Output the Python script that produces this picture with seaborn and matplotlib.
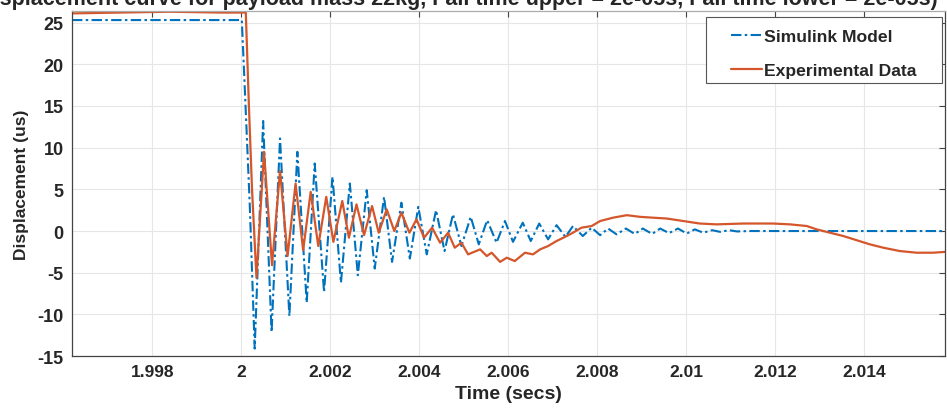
import pandas as pd
import matplotlib.pyplot as plt
from matplotlib.patches import Rectangle
import seaborn as sns

# Simulink model response (time in s, displacement in us)
sim_time = [1.99619, 2.00001, 2.00007, 2.00019, 2.00030, 2.00049, 2.00068, 2.00087,
            2.00108, 2.00126, 2.00147, 2.00165, 2.00186, 2.00205, 2.00224, 2.00244,
            2.00262, 2.00282, 2.00300, 2.00321, 2.00339, 2.00360, 2.00379, 2.00398,
            2.00417, 2.00438, 2.00457, 2.00476, 2.00495, 2.00516, 2.00534, 2.00553,
            2.00574, 2.00593, 2.00611, 2.00633, 2.00651, 2.00670, 2.00690, 2.00709,
            2.00729, 2.00746, 2.00768, 2.00788, 2.00807, 2.00825, 2.00844, 2.00865,
            2.00885, 2.00903, 2.00924, 2.00942, 2.00962, 2.00982, 2.01002, 2.01020,
            2.01039, 2.01059, 2.01077, 2.01097, 2.01115, 2.01144, 2.01583]
sim_disp = [25.3, 25.3, 18.0, 3.0, -14.1, 13.2, -12.1, 11.1,
            -10.2, 9.5, -8.6, 8.1, -7.3, 6.5, -6.2, 5.7,
            -5.3, 4.9, -4.5, 4.1, -3.7, 3.4, -3.3, 2.9,
            -2.8, 2.5, -2.4, 2.0, -1.8, 1.7, -1.6, 1.3,
            -1.4, 1.2, -1.3, 1.0, -1.2, 0.9, -1.0, 0.7,
            -0.7, 0.6, -0.6, 0.4, -0.5, 0.3, -0.4, 0.3,
            -0.35, 0.3, -0.35, 0.3, -0.25, 0.3, -0.3, 0.2,
            -0.2, 0.1, -0.1, 0.1, -0.05, 0.0, 0.0]

# Measured response
exp_time = [1.99619, 1.99727, 1.99839, 1.99952, 2.00010, 2.00017, 2.00024, 2.00034,
            2.00051, 2.00069, 2.00087, 2.00104, 2.00122, 2.00139, 2.00156, 2.00173,
            2.00191, 2.00207, 2.00227, 2.00242, 2.00259, 2.00276, 2.00294, 2.00309,
            2.00327, 2.00344, 2.00360, 2.00378, 2.00394, 2.00411, 2.00429, 2.00447,
            2.00465, 2.00480, 2.00495, 2.00510, 2.00537, 2.00552, 2.00563, 2.00582,
            2.00597, 2.00615, 2.00638, 2.00656, 2.00672, 2.00690, 2.00709, 2.00732,
            2.00746, 2.00765, 2.00788, 2.00807, 2.00836, 2.00867, 2.00897, 2.00926,
            2.00957, 2.00994, 2.01031, 2.01069, 2.01129, 2.01196, 2.01234, 2.01272,
            2.01294, 2.01324, 2.01354, 2.01384, 2.01414, 2.01444, 2.01481, 2.01519,
            2.01556, 2.01583]
exp_disp = [26.1, 26.2, 26.3, 26.2, 26.2, 15.0, 5.0, -5.6,
            9.5, -4.1, 7.2, -3.0, 5.7, -2.3, 4.7, -1.8,
            4.1, -1.3, 3.6, -0.8, 3.2, -0.5, 3.0, -0.2,
            2.6, 0.0, 2.2, -0.2, 1.4, -0.8, 0.4, -1.4,
            -0.2, -2.0, -1.4, -2.8, -2.2, -3.0, -2.6, -3.7,
            -3.2, -3.6, -2.6, -2.8, -2.2, -1.8, -1.2, -0.6,
            -0.2, 0.4, 0.6, 1.2, 1.6, 1.9, 1.7, 1.6,
            1.5, 1.2, 0.9, 0.8, 0.9, 0.9, 0.8, 0.6,
            0.2, -0.2, -0.6, -1.1, -1.6, -2.0, -2.4, -2.6,
            -2.6, -2.5]

x_ticks = [1.998, 2.0, 2.002, 2.004, 2.006, 2.008, 2.010, 2.012, 2.014]
x_tick_labels = ['1.998', '2', '2.002', '2.004', '2.006', '2.008', '2.01', '2.012', '2.014']
y_ticks = [-15, -10, -5, 0, 5, 10, 15, 20, 25]

title = ('(Displacement curve for payload mass 22kg, Fall time upper = 2e-05s, '
         'Fall time lower = 2e-05s)')

sns.set_theme(style="whitegrid")
plt.rcParams['font.family'] = ['Liberation Sans', 'DejaVu Sans']

fig = plt.figure(figsize=(9.47, 4.10), dpi=100)
ax = fig.add_axes([0.076, 0.129, 0.922, 0.842])

sim_df = pd.DataFrame({'Time': sim_time, 'Displacement': sim_disp})
exp_df = pd.DataFrame({'Time': exp_time, 'Displacement': exp_disp})

sns.lineplot(data=sim_df, x='Time', y='Displacement', ax=ax, color='#0072BD',
             lw=1.5, linestyle=(0, (5, 1.6, 1.2, 1.6)), estimator=None,
             sort=False, label='Simulink Model')
sns.lineplot(data=exp_df, x='Time', y='Displacement', ax=ax, color='#D5562A',
             lw=1.6, estimator=None, sort=False, label='Experimental Data')

ax.set_xlim(1.99619, 2.01583)
ax.set_ylim(-15, 26.4)
ax.set_xticks(x_ticks)
ax.set_xticklabels(x_tick_labels, fontsize=12.5, fontweight='bold')
ax.set_yticks(y_ticks)
ax.set_yticklabels([str(v) for v in y_ticks], fontsize=13, fontweight='bold')

ax.set_facecolor('white')
ax.grid(True, color='#e6e6e6', lw=0.8)
for side in ['left', 'bottom', 'top', 'right']:
    ax.spines[side].set_visible(True)
    ax.spines[side].set_color('#444444')
    ax.spines[side].set_linewidth(0.9)
ax.spines['top'].set_color('#aaaaaa')
ax.tick_params(axis='both', direction='in', length=4, width=0.8, color='#444444',
               top=True, right=True, pad=6)

ax.set_xlabel('Time (secs)', fontsize=14, fontweight='bold', labelpad=4)
ax.set_ylabel('Displacement (us)', fontsize=12.5, fontweight='bold', labelpad=6)

# legend box drawn separately so its padding can match the reference
ax.add_patch(Rectangle((0.7262, 0.7913), 0.2704, 0.1913, transform=ax.transAxes,
                       facecolor='white', edgecolor='#555555', lw=0.8, zorder=4,
                       clip_on=False))
leg = ax.legend(loc='upper left', bbox_to_anchor=(0.7549, 0.948), borderaxespad=0,
                prop={'weight': 'bold', 'size': 12.6}, handlelength=1.75,
                labelspacing=1.08, borderpad=0, handletextpad=0.15,
                frameon=False)
leg.set_zorder(5)

fig.text(0.48, 1 - 5.5 / 410, title, ha='center', va='baseline', fontsize=15.5,
         fontweight='bold')

plt.savefig('out.png', dpi=100)
plt.close()
